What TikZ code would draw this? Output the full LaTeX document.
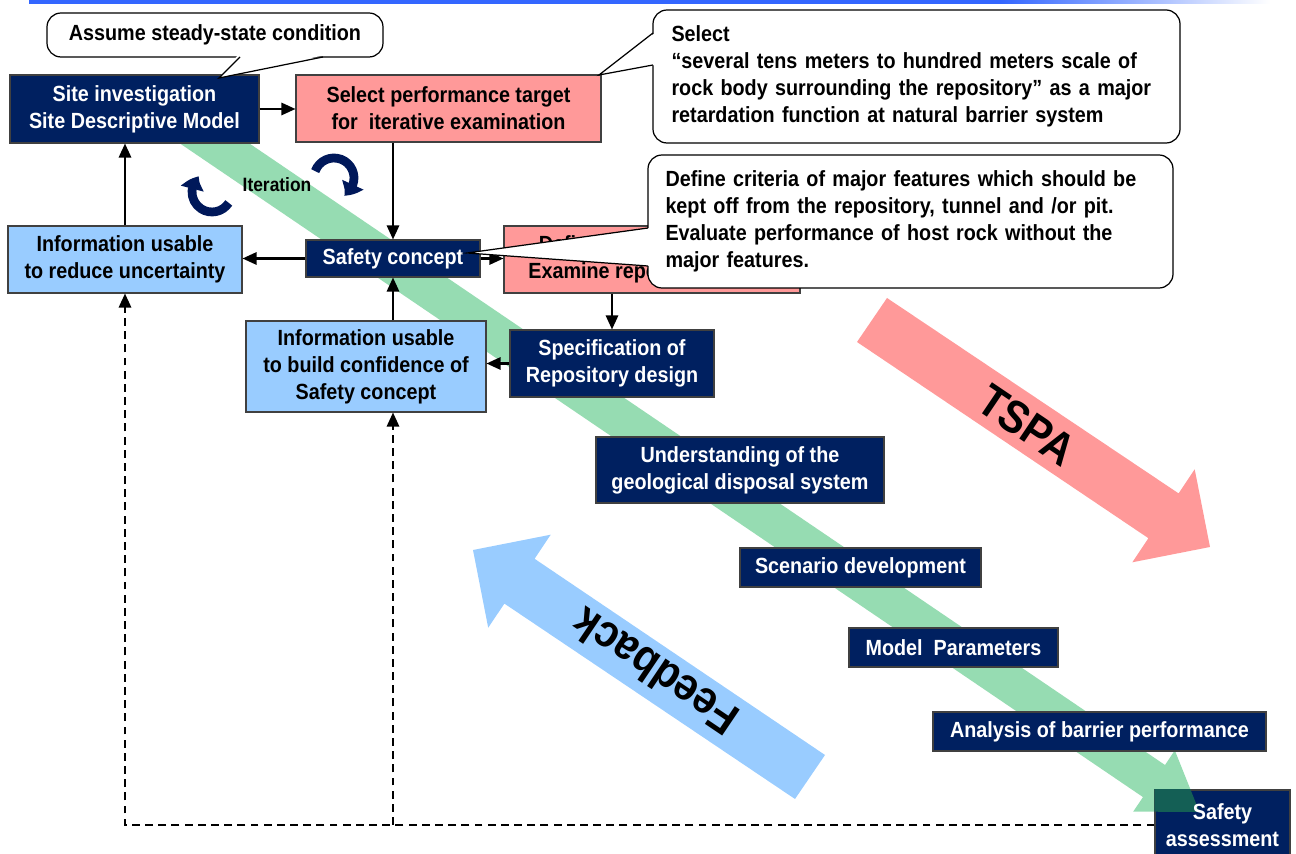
\documentclass[tikz,border=0pt]{standalone}
\usepackage{fontspec}
\setmainfont{Liberation Sans}[FakeStretch=0.9]
\usetikzlibrary{arrows.meta,bending,positioning,calc}
\definecolor{navyc}{RGB}{0,32,96}
\definecolor{arcc}{RGB}{0,24,90}
\definecolor{pinkc}{RGB}{255,153,153}
\definecolor{skyc}{RGB}{153,204,255}
\definecolor{bandc}{RGB}{150,220,178}
\definecolor{banddark}{RGB}{20,95,85}
\definecolor{barc}{RGB}{51,102,255}

\begin{document}
\begin{tikzpicture}[x=0.02cm, y=-0.02cm,
        boxfont/.style={font=\fontsize{12.5}{15.3}\selectfont\bfseries},
        wh/.style 2 args={minimum width=#1*0.02cm, minimum height=#2*0.02cm},
        navybox/.style={rectangle, draw=black!75, line width=0.6pt, fill=navyc, text=white, align=center, boxfont, inner sep=0pt},
        pinkbox/.style={rectangle, draw=black!75, line width=0.6pt, fill=pinkc, align=center, boxfont, inner sep=0pt},
        skybox/.style={rectangle, draw=black!75, line width=0.6pt, fill=skyc, align=center, boxfont, inner sep=0pt},
        callbox/.style={rectangle, rounded corners=0.28cm, draw=black, line width=0.7pt, fill=white, boxfont, inner sep=0pt},
        tailline/.style={draw=black, line width=0.7pt, line join=miter},
        arrow/.style={-{Triangle[length=8pt,width=7pt]}, line width=1.2pt},
        dasharrow/.style={arrow, dash pattern=on 4.5pt off 3pt},
        iterarc/.style={arcc, line width=5pt, -{Triangle[length=8pt,width=13pt,bend]}},
        bigtext/.style={font=\fontsize{26}{30}\selectfont\bfseries}
    ]
        \useasboundingbox (0,0) rectangle (1296,854);

        % Title bar
        \fill[barc] (29,0) rectangle (1000,4);
        \shade[left color=barc, right color=white] (1000,0) rectangle (1270,4);

        % Green band (TSPA chain)
        \coordinate (g1) at (183.6,98.8);
        \coordinate (g2) at (1165,765);
        \coordinate (g3) at (1174.8,750.4);
        \coordinate (g4) at (1199.5,812);
        \coordinate (g5) at (1133.2,811.6);
        \coordinate (g6) at (1143,797.1);
        \coordinate (g7) at (161.6,131);
        \fill[bandc] (g1) -- (g2) -- (g3) -- (g4) -- (g5) -- (g6) -- (g7) -- cycle;

        % Big arrows
        \fill[pinkc] (887,298) -- (1178.6,493.4) -- (1194.7,469.3) -- (1210,547)
            -- (1132.3,562.3) -- (1148.4,538.2) -- (857,342) -- cycle;
        \node[bigtext, rotate=-34] (tspa) at (1027,425) {TSPA};
        \fill[skyc] (825,755) -- (534.6,558.8) -- (550.7,534.7) -- (473,550)
            -- (488.2,627.7) -- (504.4,603.6) -- (795,799) -- cycle;
        \node[bigtext, rotate=146] (feedback) at (655,672) {Feedback};

        % Boxes
        \node[navybox, wh={249}{68}] (site) at (134.5,109) {Site investigation\\Site Descriptive Model};
        \node[pinkbox, wh={305}{67}] (target) at (448.5,108.5) {Select performance target\\for\ \ iterative examination};
        \node[navybox, wh={174}{37}] (safety) at (393,258.5) {Safety concept};
        \node[skybox, wh={234}{67}] (reduce) at (125,259.5) {Information usable\\to reduce uncertainty};
        \node[pinkbox, wh={296}{67}] (examine) at (652,259.5) {Define repository layout\\Examine repository layout};
        \node[navybox, wh={204}{67}] (spec) at (612,363.5) {Specification of\\Repository design};
        \node[skybox, wh={240}{91}] (confid) at (366,366.5) {Information usable\\to build confidence of\\Safety concept};
        \node[navybox, wh={288}{66}] (underst) at (740,470) {Understanding of the\\geological disposal system};
        \node[navybox, wh={241}{39}] (scen) at (860.5,567.5) {Scenario development};
        \node[navybox, wh={209}{39}] (model) at (953.5,647.5) {Model\ \ Parameters};
        \node[navybox, wh={333}{39}] (analysis) at (1099.5,731.5) {Analysis of barrier performance};
        \node[navybox, wh={135}{70}] (sassess) at (1222.5,825) {};

        % Band tip over the last box
        \begin{scope}
            \clip (sassess.south west) rectangle (sassess.north east);
            \fill[banddark] (g1) -- (g2) -- (g3) -- (g4) -- (g5) -- (g6) -- (g7) -- cycle;
        \end{scope}
        \node[boxfont, text=white, align=center] (sasstext) at (sassess) {Safety\\assessment};

        % Iteration
        \draw[iterarc] (334,178) ++(160:0.4cm) arc[start angle=160, end angle=-60, radius=0.4cm];
        \draw[iterarc] (212,192) ++(-33:0.4cm) arc[start angle=-33, end angle=-230, radius=0.4cm];
        \node[font=\fontsize{11}{13}\selectfont\bfseries] (iter) at (277,185) {Iteration};

        % Connectors
        \draw[arrow] (site.east) -- (site.east -| target.west);
        \draw[arrow] (target.south -| safety.north) -- (safety.north);
        \draw[arrow] (safety.west) -- (safety.west -| reduce.east);
        \draw[arrow] (reduce.north) -- (reduce.north |- site.south);
        \draw[arrow] (safety.east) -- (safety.east -| examine.west);
        \draw[arrow] (examine.south -| spec.north) -- (spec.north);
        \draw[arrow] (spec.west) -- (spec.west -| confid.east);
        \draw[arrow] (confid.north -| safety.south) -- (safety.south);
        \draw[dasharrow] (sassess.west) -| (reduce.south);
        \draw[dasharrow] (safety.south |- sassess.west) -- (safety.south |- confid.south);

        % Callouts
        \node[callbox, wh={336}{44}] (callA) at (215,35) {Assume steady-state condition};
        \fill[white] (238,55) -- (219,78) -- (325,55) -- cycle;
        \draw[tailline] (240,57) -- (219,78) -- (323,57);

        \node[callbox, wh={527}{133}, text width=490*0.02cm, align=left] (callB) at (916.5,76.5)
            {Select\\“several tens meters to hundred meters scale of\\rock body surrounding the repository” as a major\\retardation function at natural barrier system};
        \fill[white] (655,33) -- (599,75) -- (655,65) -- cycle;
        \draw[tailline] (653,33) -- (599,75) -- (653,65);

        \node[callbox, wh={525}{133}, text width=490*0.02cm, align=left] (callC) at (910.5,221.5)
            {Define criteria of major features which should be\\kept off from the repository, tunnel and /or pit.\\Evaluate performance of host rock without the\\major features.};
        \fill[white] (650,228) -- (467,253) -- (650,266) -- cycle;
        \draw[tailline] (648,228) -- (467,253) -- (648,266);
    \end{tikzpicture}
\end{document}
